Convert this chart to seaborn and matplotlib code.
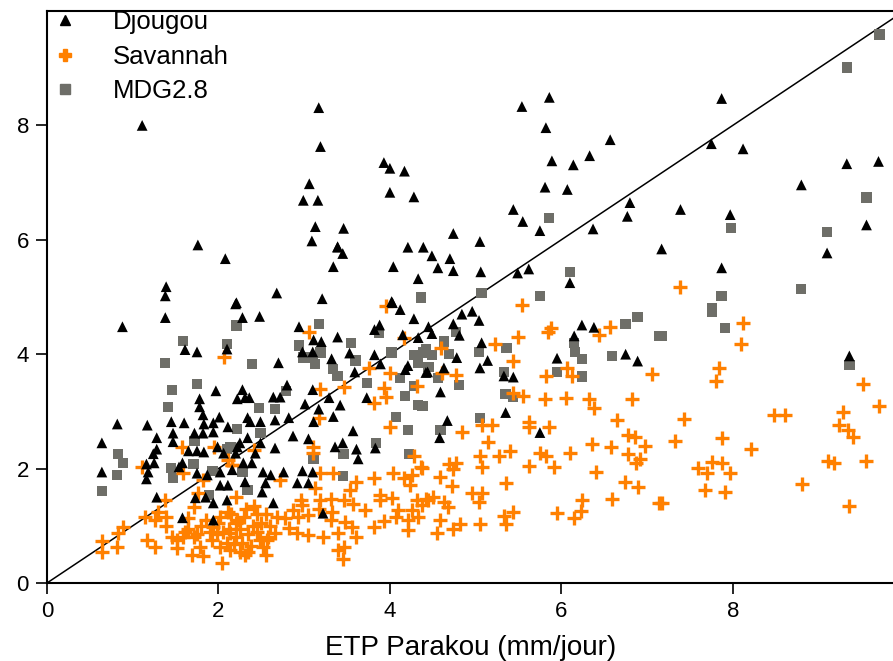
import numpy as np
import pandas as pd
import matplotlib
matplotlib.use("Agg")
import matplotlib.pyplot as plt
from matplotlib.lines import Line2D
import seaborn as sns

# ---------------- data ----------------
djougou_x = [1.11, 3.17, 3.19, 3.06, 2.99, 3.16, 3.13, 3.09, 3.39, 3.34, 1.76, 2.08, 1.39, 1.38, 2.21, 2.68, 3.21,
             5.86, 5.54, 5.82, 6.57, 6.33, 5.89, 6.14, 3.93, 4.00, 4.17, 4.00, 4.28, 5.81, 6.07, 5.44, 5.55, 5.75,
             6.80, 6.77, 6.37, 3.46, 3.39, 3.45, 4.74, 5.05, 4.21, 4.39, 4.49, 4.70, 4.04, 4.56, 4.74, 5.06, 4.33,
             5.49, 5.62, 6.10, 4.02,
             7.87, 7.75, 8.12, 9.33, 9.70, 8.80, 7.39, 7.97, 7.17, 9.56, 9.10, 7.87,
             6.24, 6.38, 6.15, 5.95, 6.75, 6.89, 4.84, 4.96, 5.04, 4.74, 4.45, 4.49, 4.81, 5.07, 4.78, 5.14, 5.05,
             4.63, 4.42, 5.44, 5.33, 4.59, 5.35, 4.67, 5.75, 4.58, 9.36,
             2.28, 2.48, 2.94, 3.11, 3.20, 3.39, 2.98, 3.10, 2.70, 3.32, 3.53, 3.59, 3.82, 3.89, 3.88, 3.82, 4.15,
             4.28, 4.03, 4.12, 4.33, 4.21, 4.18, 4.44, 2.28, 2.22, 2.31, 2.36, 2.64, 2.72, 2.80, 3.01, 3.10, 3.17,
             3.42, 3.29, 3.73, 3.34, 3.11, 2.82, 2.66, 2.49, 2.37, 2.34, 3.57, 2.87, 3.05, 2.34, 2.25, 2.49, 2.66,
             3.36, 3.45, 3.61, 3.63, 3.83, 2.20, 2.43, 2.29, 2.39, 2.52, 2.61, 2.76, 2.98, 3.10, 2.31, 2.55, 2.92,
             3.05, 2.51, 2.64, 3.22,
             0.88, 1.38, 1.61, 1.75, 2.10, 2.20, 1.97, 1.78, 1.78, 1.82, 2.01, 0.82, 1.17, 1.45, 1.60, 1.83, 1.94,
             2.11, 0.64, 1.28, 1.47, 1.72, 1.82, 1.94, 1.47, 1.28, 1.24, 1.65, 1.75, 1.83, 1.99, 2.06, 2.22, 1.16,
             1.25, 1.58, 0.64, 1.18, 1.16, 1.54, 1.75, 1.87, 2.02, 2.16, 1.28, 1.73, 1.94, 2.02, 2.11, 1.85, 2.10,
             1.58, 1.94]
djougou_y = [8.00, 8.31, 7.63, 6.98, 6.69, 6.69, 6.23, 5.98, 5.88, 5.53, 5.91, 5.67, 5.18, 5.02, 4.90, 5.07, 4.97,
             8.49, 8.33, 7.96, 7.75, 7.47, 7.38, 7.31, 7.35, 7.25, 7.20, 6.83, 6.75, 6.92, 6.88, 6.53, 6.32, 6.16,
             6.65, 6.41, 6.19, 6.20, 5.87, 5.76, 6.11, 5.97, 5.87, 5.87, 5.72, 5.67, 5.53, 5.51, 5.46, 5.44, 5.32,
             5.42, 5.49, 5.25, 4.92,
             8.47, 7.68, 7.59, 7.33, 7.37, 6.96, 6.53, 6.44, 5.84, 6.26, 5.77, 5.51,
             4.51, 4.47, 4.32, 3.93, 4.00, 3.88, 4.70, 4.75, 4.59, 4.53, 4.48, 4.36, 4.33, 4.20, 3.94, 3.89, 3.76,
             3.76, 3.68, 3.60, 3.62, 3.34, 2.98, 2.84, 2.63, 2.54, 3.97,
             4.64, 4.66, 4.48, 4.25, 4.22, 4.30, 4.04, 4.04, 3.85, 3.92, 4.02, 3.69, 3.99, 3.83, 4.51, 4.43, 4.34,
             4.62, 4.90, 4.78, 4.29, 3.80, 3.73, 3.69, 3.38, 3.22, 3.24, 3.24, 3.25, 3.25, 3.46, 3.13, 3.38, 3.04,
             3.11, 3.24, 3.24, 2.91, 2.82, 2.89, 2.85, 2.82, 2.82, 2.89, 2.66, 2.57, 2.52, 2.54, 2.45, 2.45, 2.36,
             2.38, 2.45, 2.34, 2.17, 2.36, 2.27, 2.27, 2.10, 2.10, 1.94, 1.89, 1.94, 1.96, 1.94, 1.77, 1.75, 1.75,
             1.75, 1.59, 1.40, 1.22,
             4.48, 4.64, 4.08, 4.04, 4.09, 4.88, 3.36, 3.22, 3.08, 2.94, 2.90, 2.78, 2.76, 2.82, 2.80, 2.78, 2.80,
             2.73, 2.45, 2.54, 2.62, 2.62, 2.62, 2.64, 2.47, 2.34, 2.26, 2.31, 2.31, 2.29, 2.38, 2.27, 2.38, 2.08,
             2.10, 2.10, 1.94, 1.94, 1.82, 2.03, 1.92, 1.89, 1.94, 1.98, 1.50, 1.49, 1.40, 1.71, 1.71, 1.50, 1.45,
             1.14, 1.10]

savannah_x = [2.07, 1.57, 1.95, 1.11, 1.59, 1.82, 2.11, 2.16, 1.76, 1.38, 1.72, 1.14, 1.26, 1.39, 1.39, 1.30,
              0.89, 0.83, 0.64, 0.64, 0.82, 1.17, 1.26, 1.52, 1.61, 1.64, 1.85, 1.94, 2.02, 2.11, 2.22, 1.71, 1.79,
              1.69, 1.82, 2.04, 1.52, 1.93, 2.02, 2.14, 2.14, 1.46, 1.59,
              3.96, 3.06, 4.17, 3.76, 4.00, 3.46, 3.19, 3.93, 3.96, 4.32, 3.82, 3.17, 4.00, 2.41, 3.10, 3.10, 4.28,
              2.16, 2.72, 3.18, 3.34, 3.60, 3.82, 4.04, 4.16, 4.26, 4.36, 4.24, 3.54, 3.13, 2.20, 3.19, 2.96, 3.89,
              3.89, 4.03, 3.46, 3.31, 3.57, 3.71, 4.32, 4.42, 4.10, 4.26, 2.98, 2.87, 3.17, 3.33, 2.68, 2.78, 2.93,
              3.05, 3.31, 3.48, 3.56, 3.81, 3.93, 4.07, 4.21, 4.21, 4.33, 2.82, 2.92, 3.04, 3.22, 3.40, 3.60, 2.66,
              2.57, 2.52, 2.55, 2.31, 3.39, 3.46, 3.45,
              2.15, 2.20, 2.25, 2.30, 2.35, 2.40, 2.45, 2.20, 2.28, 2.38, 2.45, 2.50, 2.12, 2.18, 2.32, 2.42, 2.25,
              2.55, 2.05, 2.10, 1.98, 2.00, 1.90, 1.80, 1.75, 1.65, 2.60, 2.58, 2.48, 2.35,
              5.54, 5.88, 5.84, 6.57, 6.44, 5.49, 5.23, 4.60, 5.44, 6.07, 5.82, 6.13, 7.06, 4.61, 4.77, 5.44, 5.55,
              5.81, 6.06, 6.32, 6.38, 6.82, 5.62, 5.62, 5.86, 6.65, 5.07, 5.19, 4.84, 6.78, 6.86, 6.98, 5.14, 6.36,
              6.58, 5.40, 5.75, 5.82, 6.10, 6.78, 6.92, 6.87, 5.05, 5.27, 5.07, 5.62, 5.91, 6.40, 4.69, 4.77, 4.74,
              4.38, 4.58, 4.73, 5.35, 6.74, 6.89, 4.96, 5.07, 5.04, 6.24, 6.59, 7.14, 4.44, 4.50, 4.38, 4.63, 4.68,
              6.23, 5.95, 6.15, 5.33, 5.44, 5.35, 5.05, 4.82, 4.74, 4.59, 4.55,
              8.12, 8.10, 7.84, 7.80, 7.43, 7.33, 7.87, 8.21, 8.48, 8.61, 9.52, 9.71, 9.29, 9.24, 9.35, 9.40, 7.59,
              7.70, 7.76, 7.87, 7.97, 7.68, 7.91, 7.17, 8.81, 9.11, 9.18, 9.55, 9.36, 7.39]
savannah_y = [3.95, 2.37, 2.37, 2.03, 1.92, 1.80, 2.15, 2.06, 1.58, 1.45, 1.33, 1.16, 1.10, 1.16, 1.00, 1.24,
              0.98, 0.87, 0.74, 0.54, 0.63, 0.75, 0.63, 0.75, 0.89, 1.14, 1.10, 0.98, 1.16, 1.24, 1.10, 0.80, 0.63,
              0.49, 0.47, 0.35, 0.61, 0.75, 0.63, 0.58, 0.87, 0.80, 0.80,
              4.85, 4.39, 4.29, 3.76, 3.68, 3.43, 3.39, 3.41, 3.25, 3.45, 3.15, 2.89, 2.73, 2.33, 2.38, 2.27, 2.22,
              2.06, 1.80, 1.92, 1.92, 1.77, 1.84, 1.92, 1.84, 1.89, 2.03, 1.71, 1.63, 1.66, 1.50, 1.45, 1.45, 1.54,
              1.45, 1.49, 1.45, 1.47, 1.38, 1.28, 1.45, 1.47, 1.28, 1.28, 1.36, 1.28, 1.29, 1.24, 1.16, 1.14, 1.16,
              1.19, 1.10, 1.07, 0.98, 0.98, 1.08, 1.16, 1.10, 0.93, 1.16, 0.96, 0.87, 0.84, 0.80, 0.87, 0.80, 0.87,
              0.75, 0.63, 0.49, 0.49, 0.58, 0.63, 0.42,
              1.20, 1.05, 0.95, 1.15, 0.85, 1.00, 1.20, 0.80, 0.70, 0.65, 0.90, 1.05, 0.95, 0.68, 1.30, 1.35, 0.55,
              1.20, 0.90, 0.70, 0.85, 1.05, 0.90, 1.00, 0.85, 0.95, 1.00, 0.80, 0.75, 0.55,
              4.86, 4.46, 4.39, 4.48, 4.34, 4.30, 4.18, 4.11, 3.88, 3.76, 3.62, 3.62, 3.66, 3.68, 3.64, 3.32, 3.27,
              3.22, 3.24, 3.22, 3.06, 3.22, 2.82, 2.73, 2.73, 2.85, 2.76, 2.76, 2.64, 2.59, 2.56, 2.40, 2.47, 2.43,
              2.37, 2.31, 2.27, 2.22, 2.27, 2.26, 2.17, 2.10, 2.22, 2.22, 2.03, 2.05, 2.03, 1.94, 2.08, 2.10, 1.99,
              2.01, 1.85, 1.70, 1.75, 1.77, 1.68, 1.58, 1.58, 1.42, 1.45, 1.47, 1.40, 1.45, 1.50, 1.36, 1.42, 1.33,
              1.26, 1.22, 1.14, 1.17, 1.24, 1.03, 1.03, 1.03, 0.94, 1.10, 0.87,
              4.55, 4.18, 3.76, 3.53, 2.87, 2.48, 2.54, 2.34, 2.94, 2.94, 3.48, 3.10, 2.99, 2.76, 2.68, 2.56, 2.01,
              1.92, 2.12, 2.10, 1.92, 1.63, 1.59, 1.40, 1.73, 2.13, 2.10, 2.13, 1.35, 5.18]

mdg_x = [9.71, 9.33, 9.56, 9.10, 7.98, 8.80, 7.87, 7.76, 5.86, 6.10, 5.75, 5.07, 4.36,
         7.76, 7.91, 7.17, 9.36,
         6.89, 6.75, 7.14, 6.15, 6.16, 6.24, 6.59, 5.95, 6.24, 4.77, 4.63, 4.42, 4.49, 4.69, 5.04, 5.36, 4.45,
         4.56, 4.81, 5.33, 5.35, 5.44, 4.38, 5.05, 4.59,
         2.21, 3.17, 2.94, 2.99, 3.10, 3.19, 3.13, 3.55, 3.60, 3.87, 4.02, 4.28, 4.39, 4.33, 3.34, 3.39, 3.73,
         4.12, 4.28, 4.18, 4.33, 2.39, 2.79, 2.47, 2.66, 2.22, 2.49, 4.07, 4.21, 3.84, 3.46, 4.22, 3.11, 2.14,
         2.28, 2.34, 3.45,
         1.59, 2.10, 1.38, 1.75, 1.46, 1.41, 1.72, 2.10, 0.83, 0.89, 1.71, 1.45, 1.47, 1.93, 0.82, 0.64, 1.89]
mdg_y = [9.59, 9.01, 6.74, 6.14, 6.21, 5.14, 5.02, 4.81, 6.38, 5.44, 5.02, 5.07, 4.99,
         4.74, 4.46, 4.32, 3.81,
         4.65, 4.53, 4.32, 4.20, 4.04, 3.92, 3.97, 3.69, 3.61, 4.39, 4.22, 4.08, 3.99, 4.00, 4.04, 4.11, 3.78,
         3.59, 3.46, 3.69, 3.31, 3.25, 3.10, 2.89, 2.68,
         4.50, 4.53, 4.15, 3.94, 3.94, 4.03, 3.83, 4.20, 3.89, 4.37, 4.03, 3.99, 4.03, 3.85, 3.74, 3.62, 3.50,
         3.59, 3.45, 3.27, 3.11, 3.83, 3.36, 3.06, 3.04, 2.69, 2.62, 2.90, 2.68, 2.45, 2.26, 2.26, 2.17, 2.38,
         1.94, 1.63, 1.87,
         4.23, 4.18, 3.85, 3.48, 3.38, 3.08, 2.48, 2.34, 2.26, 2.10, 2.08, 2.01, 1.84, 1.96, 1.89, 1.61, 1.54]

series_names = ["Djougou", "Savannah", "MDG2.8"]
x_ticks = [0, 2, 4, 6, 8]
y_ticks = [0, 2, 4, 6, 8]
x_label = "ETP Parakou (mm/jour)"

# ---------------- style ----------------
sns.set_theme(style="white")
plt.rcParams["font.family"] = ["Liberation Sans", "DejaVu Sans"]
plt.rcParams["text.color"] = "black"
plt.rcParams["axes.labelcolor"] = "black"
plt.rcParams["xtick.color"] = "black"
plt.rcParams["ytick.color"] = "black"

col_black = "#000000"
col_orange = "#FF8000"
col_gray = "#6E6E68"

fig = plt.figure(figsize=(8.93, 6.61), dpi=100)
ax = fig.add_axes([47 / 893, 1 - 583 / 661, 1 - 47 / 893 + 0.002, (583 - 11) / 661])

df_d = pd.DataFrame({"x": djougou_x, "y": djougou_y})
df_s = pd.DataFrame({"x": savannah_x, "y": savannah_y})
df_m = pd.DataFrame({"x": mdg_x, "y": mdg_y})

sns.scatterplot(data=df_m, x="x", y="y", ax=ax, marker="s", s=55, color=col_gray,
                edgecolor="none", linewidth=0, zorder=3)
sns.scatterplot(data=df_s, x="x", y="y", ax=ax, marker="+", s=110, color=col_orange,
                linewidth=2.4, zorder=4)
sns.scatterplot(data=df_d, x="x", y="y", ax=ax, marker="^", s=60, color=col_black,
                edgecolor="none", linewidth=0, zorder=5)

xmax = 9.89
ax.plot([0, 10.5], [0, 10.5], color="black", linewidth=1.1, zorder=2)

ax.set_xlim(0, xmax)
ax.set_ylim(0, 10.0)
ax.set_xticks(x_ticks)
ax.set_yticks(y_ticks)
ax.set_xlabel(x_label, fontsize=20, labelpad=9, color="black")
ax.set_ylabel("")
ax.tick_params(axis="both", which="both", direction="out", length=8, width=1.2,
               color="black", labelcolor="black", labelsize=16, pad=5, bottom=True, left=True)
for side in ["left", "bottom", "top"]:
    ax.spines[side].set_visible(True)
    ax.spines[side].set_color("black")
    ax.spines[side].set_linewidth(1.5)
ax.spines["right"].set_visible(False)

handles = [
    Line2D([], [], linestyle="none", marker="^", markersize=7, color=col_black),
    Line2D([], [], linestyle="none", marker="P", markersize=9, color=col_orange),
    Line2D([], [], linestyle="none", marker="s", markersize=7, color=col_gray),
]
leg = ax.legend(handles, series_names, loc="upper left", bbox_to_anchor=(-0.006, 1.02),
                frameon=False, fontsize=18.5, handlelength=1.0, handletextpad=1.35,
                labelspacing=0.42, borderaxespad=0.0)
for t in leg.get_texts():
    t.set_color("black")

fig.savefig("out.png", dpi=100)
